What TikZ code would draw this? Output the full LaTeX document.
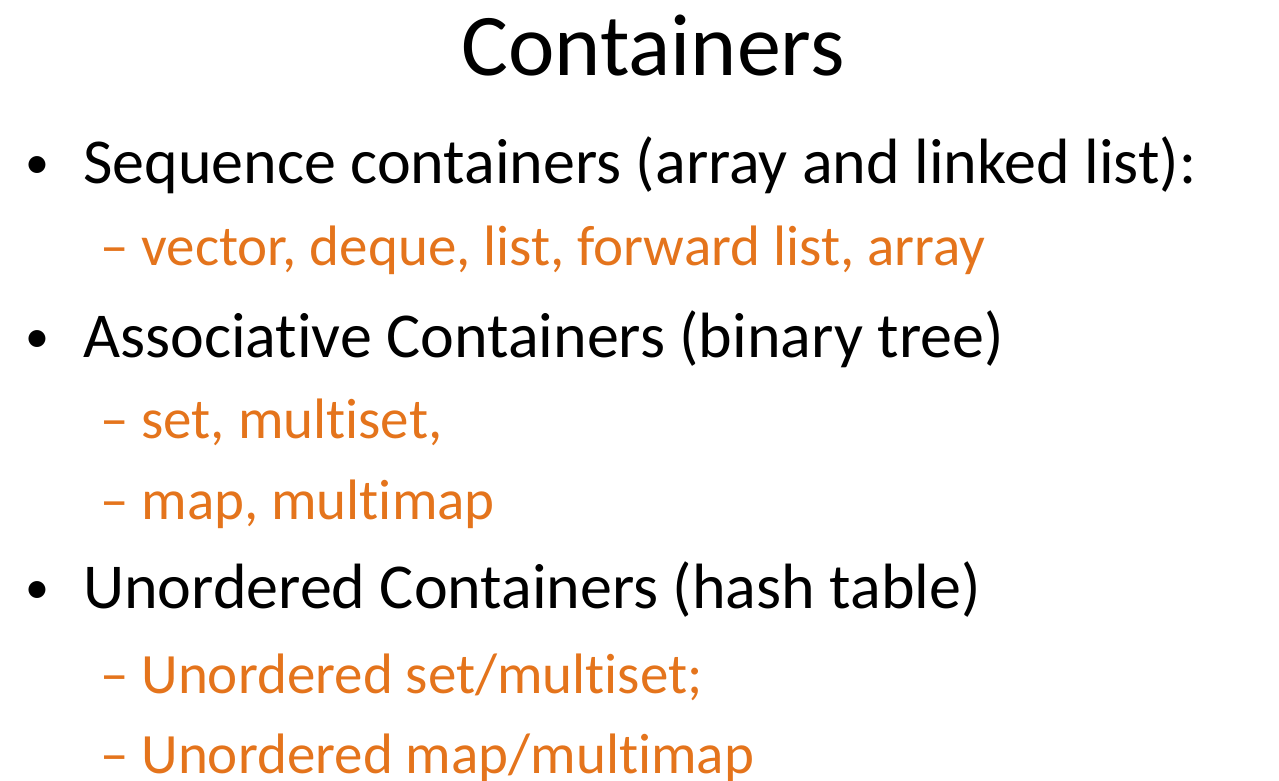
\documentclass[tikz,border=0pt]{standalone}
\usepackage{fontspec}
\setmainfont[Ligatures={NoCommon}]{Carlito}
\definecolor{org}{RGB}{228,116,28}
\begin{document}
\begin{tikzpicture}[x=1pt,y=-1pt,
 t/.style={anchor=base west,inner sep=0pt,font=\fontsize{64}{66}\selectfont},
 bl/.style={anchor=base west,inner sep=0pt,font=\fontsize{48}{50}\selectfont},
 s/.style={anchor=base west,inner sep=0pt,text=org,font=\fontsize{57}{60}\selectfont}]
\useasboundingbox (0,0) rectangle (1279,781);
\node[anchor=base,inner sep=0pt,font=\fontsize{88}{92}\selectfont] (title) at (653,76) {Containers};
\node[bl] (b1) at (25,178) {•};
\node[t] (l1) at (83,183) {Sequence containers (array and linked list):};
\node[s] (s1) at (100,265) {– vector, deque, list, forward list, array};
\node[bl] (b2) at (25,352) {•};
\node[t] (l2) at (83,357) {Associative Containers (binary tree)};
\node[s] (s2) at (100,438) {– set, multiset,};
\node[s] (s3) at (100,519) {– map, multimap};
\node[bl] (b3) at (25,603) {•};
\node[t] (l3) at (83,608) {Unordered Containers (hash table)};
\node[s] (s4) at (100,693) {– Unordered set/multiset;};
\node[s] (s5) at (100,773) {– Unordered map/multimap};
\end{tikzpicture}
\end{document}
